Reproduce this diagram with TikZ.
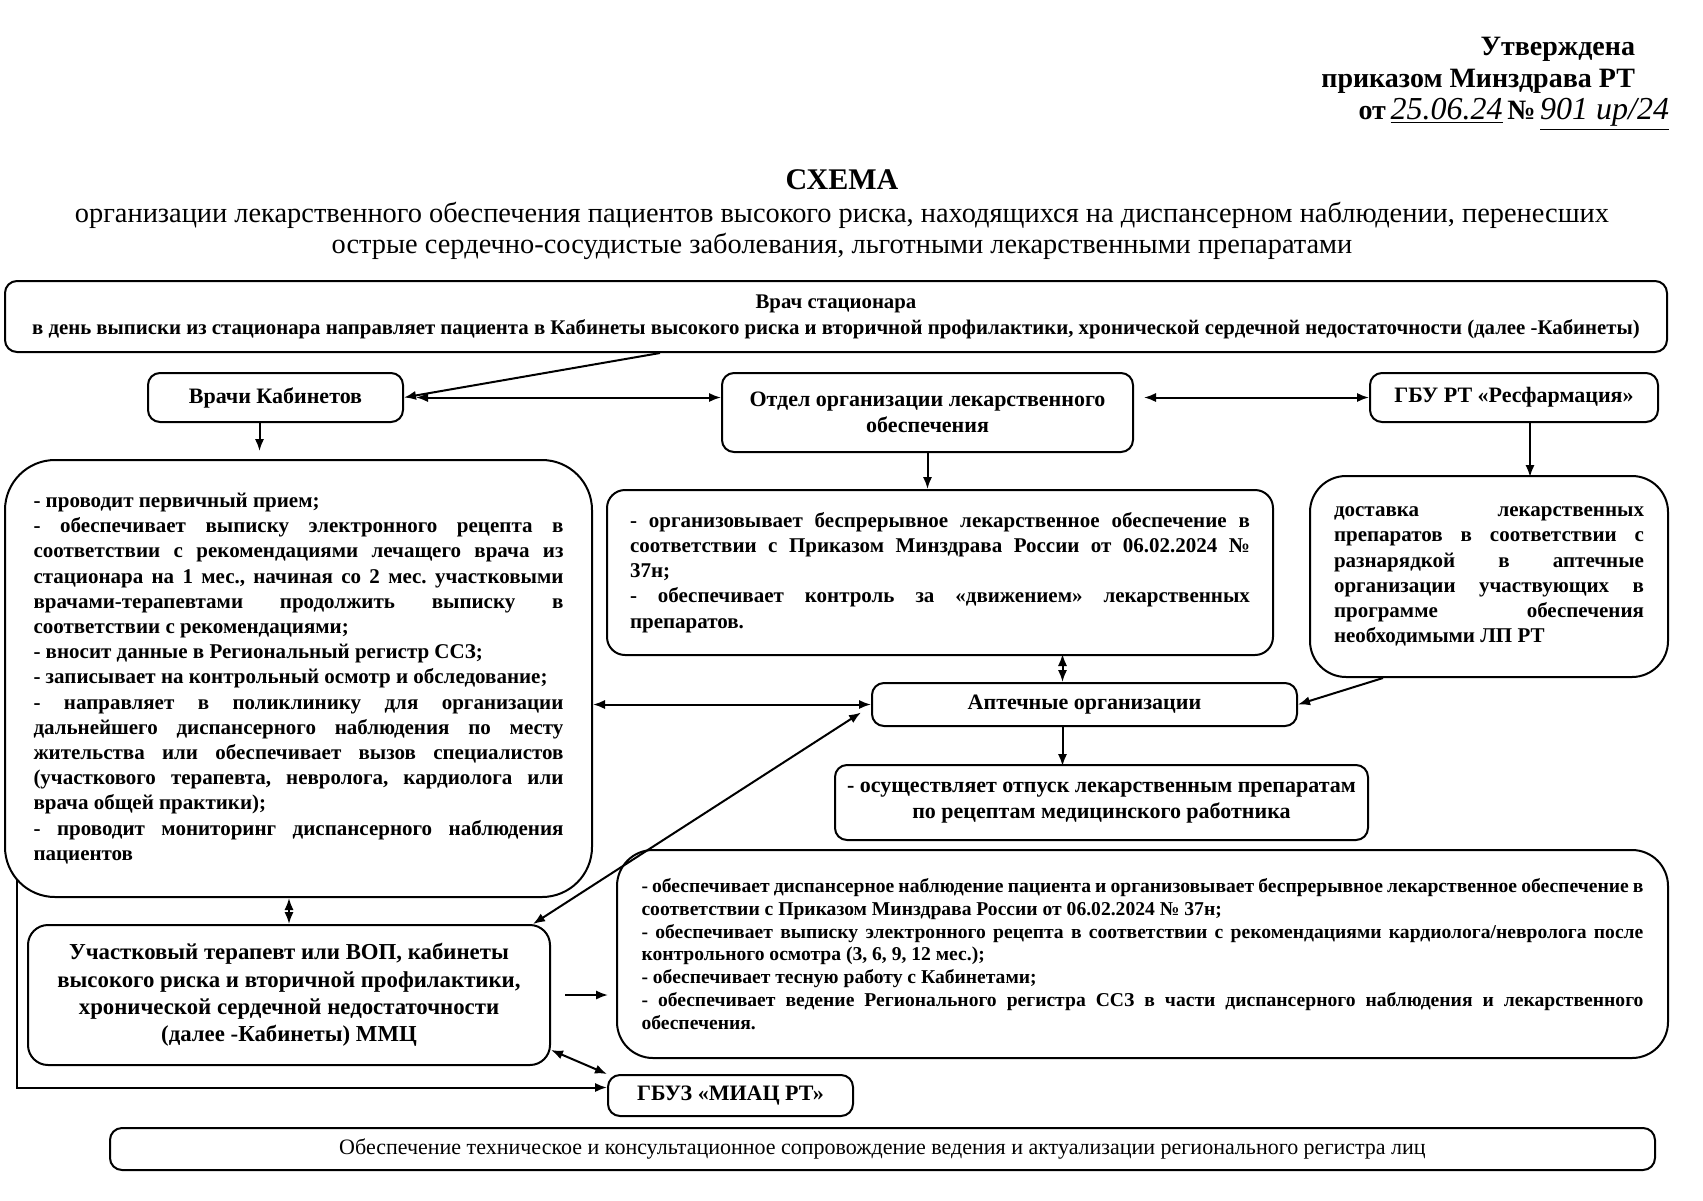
\documentclass[tikz,border=0pt]{standalone}
\usepackage{fontspec}
\setmainfont{Liberation Serif}
\usetikzlibrary{positioning,arrows,arrows.meta}
\tikzset{
  bx/.style={rectangle, rounded corners=6pt, draw=black, line width=1pt, align=center, inner sep=0pt, font=\bfseries\fontsize{11}{12.8}\selectfont},
  jb/.style={bx, align=justify, font=\bfseries\fontsize{10.5}{12.6}\selectfont},
  hd/.style={font=\bfseries\fontsize{14}{16}\selectfont, align=right, inner sep=0pt}
}

\begin{document}
\begin{tikzpicture}[x=0.5pt, y=-0.5pt, >={Latex[length=6pt,width=4.6pt]}, line width=1pt]
\useasboundingbox (0,0) rectangle (1703,1200);
\tolerance=9999 \hyphenpenalty=10000 \frenchspacing
% heading
\node[hd, anchor=north east] (utv) at (1636,36) {Утверждена\\приказом Минздрава РТ\\от\,\underline{\mdseries\itshape\fontsize{16}{16}\selectfont 25.06.24}\,№\,\underline{\mdseries\itshape\fontsize{16}{16}\selectfont 901 ир/24}\hspace*{-17pt}};
\node[font=\bfseries\fontsize{15}{17}\selectfont, inner sep=0pt] (schema) at (842,180) {СХЕМА};
\node[font=\fontsize{14.2}{15.6}\selectfont, align=center, inner sep=0pt] (title) at (842,231) {организации лекарственного обеспечения пациентов высокого риска, находящихся на диспансерном наблюдении, перенесших\\острые сердечно-сосудистые заболевания, льготными лекарственными препаратами};

% boxes
\node[bx, minimum width=831pt, minimum height=35.5pt, font=\bfseries\fontsize{10.4}{13}\selectfont] (stac) at (836,316.5) {Врач стационара\\в день выписки из стационара направляет пациента в Кабинеты высокого риска и вторичной профилактики, хронической сердечной недостаточности (далее -Кабинеты)};
\node[bx, minimum width=127.5pt, minimum height=24.5pt] (vk) at (275.5,397.5) {Врачи Кабинетов};
\node[bx, minimum width=205.5pt, minimum height=39.5pt] (otdel) at (927.5,412.5) {Отдел организации лекарственного\\обеспечения};
\node[bx, minimum width=144pt, minimum height=24.5pt] (gbu) at (1514,397.5) {ГБУ РТ «Ресфармация»};

\node[jb, rounded corners=25pt, text width=265pt, minimum width=293.5pt, minimum height=218.5pt] (vkd) at (298.5,678.5) {- проводит первичный прием;\\
- обеспечивает выписку электронного рецепта в\linebreak соответствии с рекомендациями лечащего врача из\linebreak стационара на 1 мес., начиная со 2 мес. участковыми\linebreak врачами-терапевтами продолжить выписку в\linebreak соответствии с рекомендациями;\\
- вносит данные в Региональный регистр ССЗ;\\
- записывает на контрольный осмотр и обследование;\\
- направляет в поликлинику для организации\linebreak дальнейшего диспансерного наблюдения по месту\linebreak жительства или обеспечивает вызов специалистов\linebreak (участкового терапевта, невролога, кардиолога или\linebreak врача общей практики);\\
- проводит мониторинг диспансерного наблюдения\linebreak пациентов};
\node[jb, rounded corners=9pt, text width=310pt, minimum width=333pt, minimum height=82.5pt] (otd) at (940,572.5) {- организовывает беспрерывное лекарственное обеспечение в\linebreak соответствии с Приказом Минздрава России от 06.02.2024 №\linebreak 37н;\\
- обеспечивает контроль за «движением» лекарственных\linebreak препаратов.};
\node[jb, rounded corners=18pt, text width=155pt, minimum width=179pt, minimum height=100.5pt] (gbud) at (1489,576.5) {доставка лекарственных\linebreak препаратов в соответствии с\linebreak разнарядкой в аптечные\linebreak организации участвующих в\linebreak программе обеспечения\linebreak необходимыми ЛП РТ};

\node[bx, minimum width=212.5pt, minimum height=21.5pt] (apt) at (1084.5,704.5) {Аптечные организации};
\node[bx, minimum width=266.5pt, minimum height=37.5pt] (osu) at (1101.5,802.5) {- осуществляет отпуск лекарственным препаратам\\по рецептам медицинского работника};

\node[jb, rounded corners=18pt, text width=501pt, minimum width=525.5pt, minimum height=104pt, font=\bfseries\fontsize{9.8}{11.4}\selectfont] (disp) at (1142.5,954) {- обеспечивает диспансерное наблюдение пациента и организовывает беспрерывное лекарственное обеспечение в\linebreak соответствии с Приказом Минздрава России от 06.02.2024 № 37н;\\
- обеспечивает выписку электронного рецепта в соответствии с рекомендациями кардиолога/невролога после\linebreak контрольного осмотра (3, 6, 9, 12 мес.);\\
- обеспечивает тесную работу с Кабинетами;\\
- обеспечивает ведение Регионального регистра ССЗ в части диспансерного наблюдения и лекарственного\linebreak обеспечения.};
\node[bx, rounded corners=10pt, minimum width=261pt, minimum height=70pt, font=\bfseries\fontsize{11.4}{13.6}\selectfont] (ucht) at (289,995) {Участковый терапевт или ВОП, кабинеты\\высокого риска и вторичной профилактики,\\хронической сердечной недостаточности\\(далее -Кабинеты) ММЦ};
\node[bx, minimum width=122.5pt, minimum height=20.5pt] (miac) at (730.5,1095.5) {ГБУЗ «МИАЦ РТ»};
\node[bx, minimum width=772.5pt, minimum height=21pt, font=\fontsize{11}{12.8}\selectfont] (tech) at (882.5,1149) {Обеспечение техническое и консультационное сопровождение ведения и актуализации регионального регистра лиц};

% connectors
\draw[->] ([xshift=-88pt]stac.south) -- (vk.east);
\draw[<->] ([xshift=6pt]vk.east) -- (vk.east -| otdel.west);
\draw[<->, shorten <=5pt] (otdel.east |- gbu.west) -- (gbu.west);
\draw[->] ([xshift=-8pt]vk.south) -- ++(0,-14pt);
\draw[->] (otdel.south) -- (otdel.south |- otd.north);
\draw[->] ([xshift=8pt]gbu.south) -- ++(0,-27pt);
\draw[<->] ([xshift=-11pt]apt.north) -- ++(0,14pt);
\draw[->] ([xshift=-11pt]apt.south) -- ++(0,-19.5pt);
\draw[<->] (apt.west -| vkd.east) -- (apt.west);
\draw[->] ([xshift=37pt]gbud.south west) -- (apt.east);
\draw[<->] ([xshift=-5pt,yshift=-4pt]apt.west) -- ([xshift=-9pt]ucht.north east);
\draw[<->] (ucht.north |- vkd.south) -- (ucht.north);
\draw[->, shorten <=7pt, shorten >=4pt] (ucht.east) -- (ucht.east -| disp.west);
\draw[<->] ([yshift=8pt]ucht.south east) -- (miac.north west);
\draw[->] ([xshift=6.5pt,yshift=9pt]vkd.south west) |- ([yshift=4pt]miac.west);
\end{tikzpicture}
\end{document}
